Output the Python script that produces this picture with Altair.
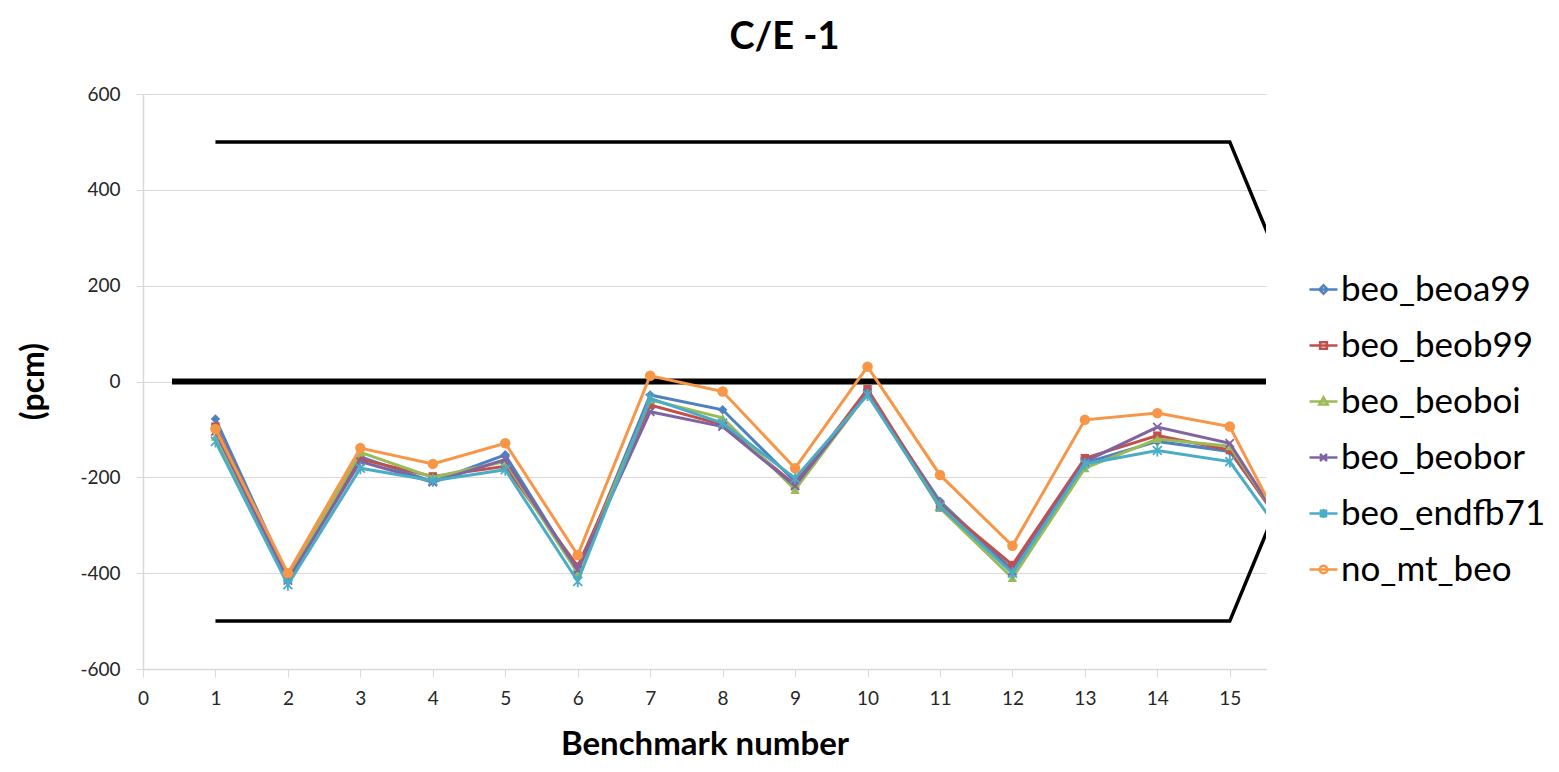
import altair as alt
import pandas as pd

# ---------------- data ----------------
benchmarks = list(range(1, 17))  # benchmark 16 lies beyond the clipped right edge
series_names = ["beo_beoa99", "beo_beob99", "beo_beoboi", "beo_beobor", "beo_endfb71", "no_mt_beo"]

beo_beoa99 = [-78, -408, -157, -209, -153, -396, -28, -59, -209, -24, -250, -393, -170, -125, -146, -355]
beo_beob99 = [-94, -410, -162, -198, -177, -386, -49, -90, -216, -16, -257, -383, -160, -113, -143, -360]
beo_beoboi = [-115, -412, -148, -200, -167, -400, -38, -76, -226, -24, -264, -410, -181, -120, -135, -362]
beo_beobor = [-104, -415, -167, -210, -163, -393, -63, -94, -218, -24, -261, -396, -167, -95, -129, -365]
beo_endfb71 = [-125, -424, -181, -207, -184, -417, -35, -87, -202, -28, -260, -400, -172, -144, -167, -378]
no_mt_beo = [-99, -400, -139, -172, -129, -362, 12, -21, -181, 31, -195, -343, -80, -66, -94, -385]

series_values = [beo_beoa99, beo_beob99, beo_beoboi, beo_beobor, beo_endfb71, no_mt_beo]
colors = ["#4F81BD", "#C0504D", "#9BBB59", "#8064A2", "#4BACC6", "#F79646"]

limit_x = [1, 15, 16]
upper_limit = [500, 500, 135]
lower_limit = [-500, -500, -135]
zero_x = [0.4, 16]
zero_y = [0, 0]

x_ticks = list(range(0, 16))
y_ticks = [-600, -400, -200, 0, 200, 400, 600]

# marker shapes in the plot
plot_shapes = [
    "diamond",
    "square",
    "triangle-up",
    "M-1,-1L1,1M-1,1L1,-1",
    "M-1,-1L1,1M-1,1L1,-1M0,-1.35V1.35",
    "circle",
]
plot_filled = [True, True, True, False, False, True]
plot_sizes = [90, 70, 90, 70, 80, 110]

# legend symbols: short line with a small marker in the middle
legend_shapes = [
    "M-1,0H1M0,-0.3L0.3,0L0,0.3L-0.3,0Z",
    "M-1,0H1M-0.24,-0.24H0.24V0.24H-0.24Z",
    "M-1,0H1M0,-0.3L0.3,0.22H-0.3Z",
    "M-1,0H1M-0.25,-0.25L0.25,0.25M-0.25,0.25L0.25,-0.25",
    "M-1,0H1M-0.25,-0.25L0.25,0.25M-0.25,0.25L0.25,-0.25M0,-0.32V0.32",
    "M-1,0H1M0.27,0A0.27,0.27 0 1,1 -0.27,0A0.27,0.27 0 1,1 0.27,0Z",
]

# ---------------- tables ----------------
rows = []
for name, vals in zip(series_names, series_values):
    for b, v in zip(benchmarks, vals):
        rows.append({"benchmark": b, "value": v, "series": name})
df = pd.DataFrame(rows)

upper_df = pd.DataFrame({"benchmark": limit_x, "value": upper_limit})
lower_df = pd.DataFrame({"benchmark": limit_x, "value": lower_limit})
zero_df = pd.DataFrame({"benchmark": zero_x, "value": zero_y})

FONT = "Lato"

x_enc = alt.X(
    "benchmark:Q",
    scale=alt.Scale(domain=[0, 15.5], nice=False, zero=False),
    axis=alt.Axis(
        values=x_ticks,
        grid=False,
        title="Benchmark number",
        titleFont=FONT,
        titleFontSize=33,
        titleFontWeight="bold",
        titleColor="#000000",
        titleBaseline="middle",
        titleY=75,
        tickSize=8,
        labelPadding=12,
        labelFlush=False,
    ),
)
y_enc = alt.Y(
    "value:Q",
    scale=alt.Scale(domain=[-600, 600], nice=False),
    axis=alt.Axis(
        values=y_ticks,
        grid=True,
        title="(pcm)",
        titleFont=FONT,
        titleFontSize=32,
        titleFontWeight="bold",
        titleColor="#000000",
        titleAngle=-90,
        titleBaseline="middle",
        titleX=-110,
        titleY=287,
        tickSize=7,
        labelPadding=16,
        labelExpr="datum.value + ''",
    ),
)

upper = alt.Chart(upper_df).mark_line(color="black", strokeWidth=3.5, clip=True).encode(x=x_enc, y=y_enc)
lower = alt.Chart(lower_df).mark_line(color="black", strokeWidth=3.5, clip=True).encode(x=x_enc, y=y_enc)
zero = alt.Chart(zero_df).mark_line(color="black", strokeWidth=6, clip=True).encode(x=x_enc, y=y_enc)

series_layers = []
for name, col, shp, fil, sz in zip(series_names, colors, plot_shapes, plot_filled, plot_sizes):
    base = alt.Chart(df).transform_filter(alt.datum.series == name)
    series_layers.append(
        base.mark_line(color=col, strokeWidth=3, clip=True).encode(
            x=x_enc, y=y_enc, order=alt.Order("benchmark:Q")
        )
    )
    series_layers.append(
        base.mark_point(shape=shp, filled=fil, color=col, size=sz, strokeWidth=1.8, opacity=1, clip=True).encode(
            x=x_enc, y=y_enc
        )
    )

legend_layer = alt.Chart(df).mark_point(filled=False, opacity=0, strokeWidth=2.5).encode(
    x=x_enc,
    y=y_enc,
    color=alt.Color(
        "series:N",
        scale=alt.Scale(domain=series_names, range=colors),
        legend=alt.Legend(
            title=None,
            orient="none",
            legendX=1163,
            legendY=178,
            symbolSize=784,
            symbolStrokeWidth=2.5,
            symbolOpacity=1,
            labelFont=FONT,
            labelFontSize=35,
            labelColor="#000000",
            labelOffset=0,
            rowPadding=20,
            padding=0,
            labelLimit=400,
        ),
    ),
    shape=alt.Shape(
        "series:N",
        scale=alt.Scale(domain=series_names, range=legend_shapes),
        legend=None,
    ),
)

chart = (
    alt.layer(upper, lower, zero, *series_layers, legend_layer)
    .properties(
        width=1123,
        height=575,
        autosize=alt.AutoSizeParams(type="none"),
        padding={"left": 135, "top": 86, "right": 285, "bottom": 95},
        title=alt.Title(
            "C/E -1",
            font=FONT,
            fontSize=38,
            fontWeight="bold",
            color="#000000",
            anchor="middle",
            dx=80,
            offset=28,
        ),
    )
    .configure_view(stroke=None)
    .configure_axis(
        domainColor="#d9d9d9",
        gridColor="#d9d9d9",
        tickColor="#d9d9d9",
        domainWidth=1.5,
        gridWidth=1.2,
        labelFont=FONT,
        labelFontSize=19,
        labelColor="#262626",
    )
)

chart.save("out.html", embed_options={"renderer": "svg", "actions": False})
